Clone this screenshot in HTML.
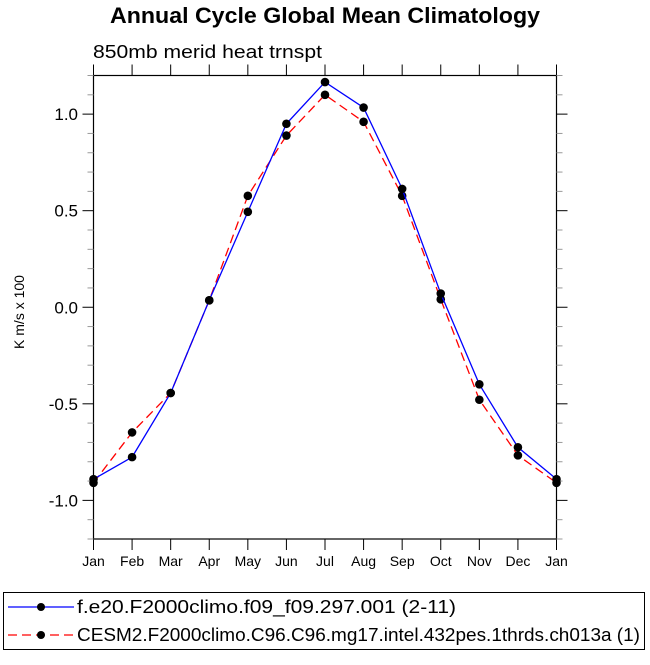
<!DOCTYPE html>
<html><head><meta charset="utf-8"><style>
body{margin:0;background:#fff;}
svg text{font-family:"Liberation Sans",Helvetica,sans-serif;}
</style></head><body>
<svg id="chart" width="650" height="660" xmlns="http://www.w3.org/2000/svg">
<text x="110" y="23" font-size="22" font-weight="bold" textLength="430" lengthAdjust="spacingAndGlyphs">Annual Cycle Global Mean Climatology</text>
<text x="93" y="58" font-size="18" textLength="229" lengthAdjust="spacingAndGlyphs">850mb merid heat trnspt</text>
<text transform="translate(24,312) rotate(-90)" text-anchor="middle" font-size="14">K m/s x 100</text>
<g id="axes"></g>
<g id="series"></g>
<rect x="3.5" y="592.5" width="641" height="57" fill="none" stroke="#000" stroke-width="1"/>
<g>
<line x1="8" y1="607" x2="74" y2="607" stroke="#0000ff" stroke-width="1.3"/>
<circle cx="41" cy="607" r="4" fill="#000"/>
<text x="77" y="613" font-size="18" textLength="379" lengthAdjust="spacingAndGlyphs">f.e20.F2000climo.f09_f09.297.001 (2-11)</text>
</g>
<g>
<line x1="8" y1="635" x2="74" y2="635" stroke="#ff0000" stroke-width="1.3" stroke-dasharray="9,5"/>
<circle cx="41" cy="635" r="4" fill="#000"/>
<text x="77" y="641" font-size="18" textLength="563" lengthAdjust="spacingAndGlyphs">CESM2.F2000climo.C96.C96.mg17.intel.432pes.1thrds.ch013a (1)</text>
</g>
</svg>
<script>
const months=["Jan","Feb","Mar","Apr","May","Jun","Jul","Aug","Sep","Oct","Nov","Dec","Jan"];
const blueValues=[-0.89,-0.776,-0.444,0.036,0.494,0.95,1.166,1.034,0.613,0.071,-0.399,-0.725,-0.89];
const redValues=[-0.909,-0.648,-0.444,0.036,0.577,0.889,1.10,0.96,0.577,0.041,-0.479,-0.767,-0.909];
const yTicks=[-1.0,-0.5,0.0,0.5,1.0];
const yTickLabels=["-1.0","-0.5","0.0","0.5","1.0"];
const L=93.5,R=556.5,T=75.5,B=539,YMIN=-1.2,YMAX=1.2;
const NS="http://www.w3.org/2000/svg";
function xs(i){return L+(R-L)*i/(months.length-1);}
function ys(v){return B-(v-YMIN)/(YMAX-YMIN)*(B-T);}
function mk(tag,attrs,parent){const e=document.createElementNS(NS,tag);for(const k in attrs)e.setAttribute(k,attrs[k]);parent.appendChild(e);return e;}
const axes=document.getElementById('axes');
const frame=mk('rect',{x:L,y:T,width:R-L,height:B-T,fill:'none',stroke:'#000','stroke-width':1.2},axes);


months.forEach((m,i)=>{
  const x=xs(i);
  mk('line',{x1:x,y1:B,x2:x,y2:B+11,stroke:'#000','stroke-width':1},axes);
  mk('line',{x1:x,y1:T,x2:x,y2:T-11,stroke:'#000','stroke-width':1},axes);
  const t=mk('text',{x:x,y:B+27,'text-anchor':'middle','font-size':14},axes);
  t.textContent=m;
  
  
});
for(let k=-12;k<=12;k++){
  const v=k/10,y=ys(v),major=(k%5===0);
  const len=major?11:6,col=major?'#000':'#999';
  mk('line',{x1:L,y1:y,x2:L-len,y2:y,stroke:col,'stroke-width':1},axes);
  mk('line',{x1:R,y1:y,x2:R+len,y2:y,stroke:col,'stroke-width':1},axes);
}
yTicks.forEach((v,i)=>{
  const t=mk('text',{x:78,y:ys(v)+6,'text-anchor':'end','font-size':17},axes);
  t.textContent=yTickLabels[i];
  
  
});
const ser=document.getElementById('series');
function draw(vals,color,dash,name){
  const g=mk('g',{},ser);
  
  
  const p=mk('polyline',{points:vals.map((v,i)=>xs(i)+','+ys(v)).join(' '),fill:'none',stroke:color,'stroke-width':1.3},g);
  if(dash)p.setAttribute('stroke-dasharray',dash);
  vals.forEach((v,i)=>{
    const c=mk('circle',{cx:xs(i),cy:ys(v),r:4.3,fill:'#000'},g);
    
    
  });
}
draw(redValues,'#ff0000','9,5','series-cesm2');
draw(blueValues,'#0000ff',null,'series-f-e20');
</script>
</body></html>
